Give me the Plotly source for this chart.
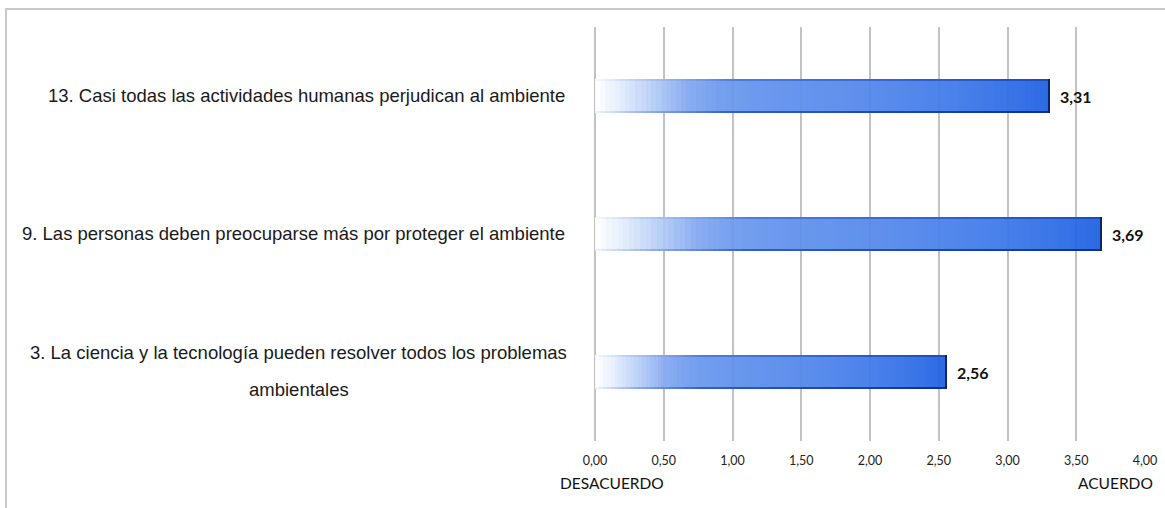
import plotly.graph_objects as go

# ---------------- data ----------------
labels = [
    ["13. Casi todas las actividades humanas perjudican al ambiente"],
    ["9. Las personas deben preocuparse más por proteger el ambiente"],
    ["3. La ciencia y la tecnología pueden resolver todos los problemas", "ambientales"],
]
values = [3.31, 3.69, 2.56]
tick_vals = [0, 0.5, 1.0, 1.5, 2.0, 2.5, 3.0, 3.5, 4.0]
tick_text = ["0,00", "0,50", "1,00", "1,50", "2,00", "2,50", "3,00", "3,50", "4,00"]
left_end_label = "DESACUERDO"
right_end_label = "ACUERDO"

# ---------------- styling ----------------
W, H = 1165, 508
ML, MR, MT, MB = 594.5, 20, 27, 67
PLOT_W = W - ML - MR
PLOT_H = H - MT - MB

fill_stops = [
    (0.00, (255, 255, 255)),
    (0.05, (230, 239, 252)),
    (0.12, (186, 208, 248)),
    (0.20, (132, 168, 240)),
    (0.27, (108, 153, 238)),
    (0.40, (94, 144, 236)),
    (0.60, (80, 134, 235)),
    (0.80, (60, 120, 233)),
    (0.92, (42, 106, 230)),
    (1.00, (28, 94, 226)),
]
top_stops = [
    (0.00, (245, 248, 254)),
    (0.12, (170, 195, 240)),
    (0.30, (80, 125, 220)),
    (1.00, (25, 75, 195)),
]
bot_stops = [
    (0.00, (240, 244, 252)),
    (0.12, (140, 170, 230)),
    (0.30, (50, 95, 200)),
    (1.00, (10, 48, 150)),
]


def interp(stops, t):
    for (t0, c0), (t1, c1) in zip(stops[:-1], stops[1:]):
        if t0 <= t <= t1:
            f = (t - t0) / (t1 - t0) if t1 > t0 else 0
            c = [round(a + (b - a) * f) for a, b in zip(c0, c1)]
            return f"rgb({c[0]},{c[1]},{c[2]})"
    c = stops[-1][1]
    return f"rgb({c[0]},{c[1]},{c[2]})"


N = 90
BAR_W = 0.24
EDGE = 1.5 / (PLOT_H / 3)

ys, xs, bases, fcols, tcols, bcols = [], [], [], [], [], []
for i, v in enumerate(values):
    seg = v / N
    for k in range(N):
        t = (k + 0.5) / N
        ys.append(i)
        xs.append(seg * 1.02)
        bases.append(k * seg)
        fcols.append(interp(fill_stops, t))
        tcols.append(interp(top_stops, t))
        bcols.append(interp(bot_stops, t))

fig = go.Figure()
fig.add_trace(go.Bar(
    y=ys, x=xs, base=bases, orientation="h", width=BAR_W,
    marker=dict(color=fcols, line=dict(width=0)), opacity=0.93,
    hoverinfo="skip", showlegend=False,
))
fig.add_trace(go.Bar(
    y=ys, x=xs, base=bases, orientation="h", width=EDGE, offset=-BAR_W / 2,
    marker=dict(color=tcols, line=dict(width=0)),
    hoverinfo="skip", showlegend=False,
))
fig.add_trace(go.Bar(
    y=ys, x=xs, base=bases, orientation="h", width=EDGE, offset=BAR_W / 2 - EDGE,
    marker=dict(color=bcols, line=dict(width=0)),
    hoverinfo="skip", showlegend=False,
))
edge_x = 1.8 * 4 / PLOT_W
fig.add_trace(go.Bar(
    y=list(range(len(values))), x=[edge_x] * len(values),
    base=[v - edge_x for v in values], orientation="h", width=BAR_W,
    marker=dict(color="#0b2566", line=dict(width=0)),
    hoverinfo="skip", showlegend=False,
))

annotations = []
lab_font = dict(family="Liberation Sans, Arial, sans-serif", size=18.5, color="#1a1a1a")
for i, lines in enumerate(labels):
    if len(lines) == 1:
        annotations.append(dict(
            x=0, xref="paper", y=i, yref="y", text=lines[0], showarrow=False,
            xanchor="right", yanchor="middle", xshift=-28.5, yshift=1, font=lab_font,
        ))
    else:
        n = len(lines)
        for j, ln in enumerate(lines):
            annotations.append(dict(
                x=0, xref="paper", y=i, yref="y", text=ln, showarrow=False,
                xanchor="center", yanchor="middle", xshift=-296.5,
                yshift=(n - 1) / 2 * 37 - j * 37 + 1, font=lab_font,
            ))
    annotations.append(dict(
        x=values[i], xref="x", y=i, yref="y",
        text=f"<b>{values[i]:.2f}</b>".replace(".", ","), showarrow=False,
        xanchor="left", yanchor="middle", xshift=8,
        font=dict(family="Lato, Carlito, sans-serif", size=16, color="#111111"),
    ))

end_font = dict(family="Lato, Carlito, sans-serif", size=15.5, color="#111111")
annotations.append(dict(
    x=0, xref="paper", y=0, yref="paper", text=left_end_label, showarrow=False,
    xanchor="left", yanchor="middle", xshift=-37, yshift=-42, font=end_font,
))
annotations.append(dict(
    x=1, xref="paper", y=0, yref="paper", text=right_end_label, showarrow=False,
    xanchor="right", yanchor="middle", xshift=10, yshift=-42, font=end_font,
))

fig.update_layout(
    width=W, height=H,
    margin=dict(l=ML, r=MR, t=MT, b=MB, pad=0, autoexpand=False),
    paper_bgcolor="white", plot_bgcolor="white",
    barmode="overlay", bargap=0,
    annotations=annotations,
    shapes=[dict(
        type="rect", xref="paper", yref="paper",
        x0=(5 - ML) / PLOT_W, x1=2.0,
        y0=-1.0, y1=1 + (MT - 9) / PLOT_H,
        line=dict(color="#c9c9c9", width=2), fillcolor="rgba(0,0,0,0)", layer="below",
    )],
    xaxis=dict(
        range=[0, 4], tickvals=tick_vals, ticktext=tick_text, automargin=False,
        showgrid=True, gridcolor="#c2c2c2", gridwidth=2,
        zeroline=True, zerolinecolor="#c2c2c2", zerolinewidth=2,
        showline=False, ticks="", ticklabelstandoff=10,
        tickfont=dict(family="Lato, Carlito, sans-serif", size=12.5, color="#222222"),
    ),
    yaxis=dict(
        range=[len(values) - 0.5, -0.5], autorange=False, showticklabels=False,
        showgrid=False, zeroline=False, showline=False, ticks="", automargin=False,
    ),
    font=dict(family="Lato, sans-serif"),
)

fig.write_html("out.html")
